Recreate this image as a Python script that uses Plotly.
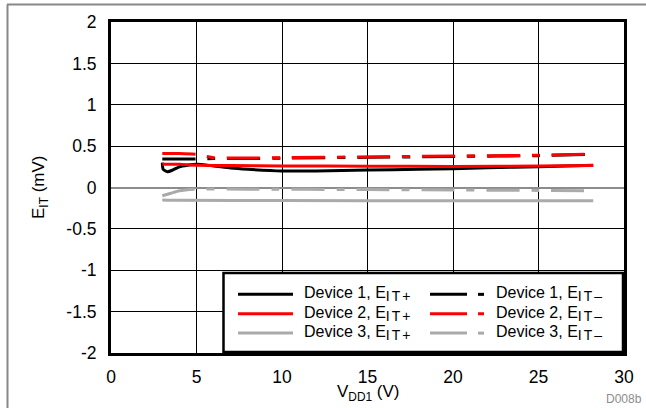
import plotly.graph_objects as go

# Supply voltage sweep (V) and input-threshold error (mV) per device
vdd_d1_pos = [3.0, 3.05, 3.3, 3.6, 4.0, 5.0, 6.0, 7.0, 8.0, 10.0, 12.0, 15.0, 18.0, 20.0, 22.0, 25.0, 28.2]
eit_d1_pos = [0.30, 0.22, 0.19, 0.21, 0.25, 0.28, 0.26, 0.235, 0.22, 0.20, 0.20, 0.21, 0.22, 0.228, 0.238, 0.252, 0.27]

vdd_d1_neg = [3.0, 4.0, 5.0, 6.0, 8.0, 10.0, 15.0, 20.0, 25.0, 28.2]
eit_d1_neg = [0.345, 0.345, 0.345, 0.35, 0.35, 0.355, 0.365, 0.375, 0.385, 0.40]

vdd_d2_pos = [3.0, 4.0, 5.0, 7.0, 10.0, 15.0, 20.0, 25.0, 28.2]
eit_d2_pos = [0.28, 0.28, 0.27, 0.265, 0.26, 0.258, 0.255, 0.26, 0.265]

vdd_d2_neg = [3.0, 4.0, 5.0, 5.5, 6.0, 8.0, 10.0, 15.0, 20.0, 25.0, 28.2]
eit_d2_neg = [0.41, 0.41, 0.40, 0.38, 0.36, 0.355, 0.36, 0.37, 0.38, 0.39, 0.405]

vdd_d3_pos = [3.0, 4.0, 10.0, 20.0, 28.2]
eit_d3_pos = [-0.15, -0.155, -0.157, -0.16, -0.16]

vdd_d3_neg = [3.0, 3.5, 4.0, 5.0, 8.0, 15.0, 20.0, 25.0, 28.2]
eit_d3_neg = [-0.10, -0.07, -0.04, -0.02, -0.02, -0.025, -0.03, -0.035, -0.04]

x_ticks = [0, 5, 10, 15, 20, 25, 30]
y_ticks = [-2, -1.5, -1, -0.5, 0, 0.5, 1, 1.5, 2]
y_tick_text = ["-2", "-1.5", "-1", "-0.5", "0", "0.5", "1", "1.5", "2"]

BLACK = "#000000"
RED = "#ff0000"
GRAY = "#aaaaaa"
DASH = "33px,12px,8px,12px"
FONT = "Liberation Sans, Arial, sans-serif"

SUB_STYLE = "font-size:14px;letter-spacing:2px"
SUB_POS = "<sub><span style='" + SUB_STYLE + "'>IT+</span></sub>"
SUB_NEG = "<sub><span style='" + SUB_STYLE + "'>IT–</span></sub>"

series = [
    ("Device 1, E" + SUB_POS, vdd_d1_pos, eit_d1_pos, BLACK, "solid"),
    ("Device 3, E" + SUB_POS, vdd_d3_pos, eit_d3_pos, GRAY, "solid"),
    ("Device 3, E" + SUB_NEG, vdd_d3_neg, eit_d3_neg, GRAY, DASH),
    ("Device 1, E" + SUB_NEG, vdd_d1_neg, eit_d1_neg, BLACK, DASH),
    ("Device 2, E" + SUB_POS, vdd_d2_pos, eit_d2_pos, RED, "solid"),
    ("Device 2, E" + SUB_NEG, vdd_d2_neg, eit_d2_neg, RED, DASH),
]

fig = go.Figure()
for name, xs, ys, color, dash in series:
    fig.add_trace(go.Scatter(
        x=xs, y=ys, mode="lines", name=name, showlegend=False,
        line=dict(color=color, width=3, dash=dash, shape="spline", smoothing=0.6),
    ))

W, H = 646, 408
ML, MR, MT, MB = 111, 22, 20, 55
PW, PH = W - ML - MR, H - MT - MB


def px(xpix):
    return (xpix - ML) / PW


def py(ypix):
    return (H - MB - ypix) / PH


shapes = []
annotations = []

# Outer page frame (top and left rules)
shapes.append(dict(type="line", xref="paper", yref="paper", x0=px(7), x1=px(W + 5),
                   y0=py(2.5), y1=py(2.5), line=dict(color="#888888", width=2)))
shapes.append(dict(type="line", xref="paper", yref="paper", x0=px(7.5), x1=px(7.5),
                   y0=py(2.5), y1=py(H + 5), line=dict(color="#888888", width=2)))

# Legend box
shapes.append(dict(type="rect", xref="paper", yref="paper", x0=px(223.5), x1=px(623),
                   y0=py(352), y1=py(272.5), line=dict(color=BLACK, width=2.5),
                   fillcolor="white", layer="above"))

legend_rows = [
    (("Device 1, E" + SUB_POS, BLACK), ("Device 1, E" + SUB_NEG, BLACK), 294),
    (("Device 2, E" + SUB_POS, RED), ("Device 2, E" + SUB_NEG, RED), 313.5),
    (("Device 3, E" + SUB_POS, GRAY), ("Device 3, E" + SUB_NEG, GRAY), 333),
]
for (lab1, c1), (lab2, c2), ypix in legend_rows:
    shapes.append(dict(type="line", xref="paper", yref="paper", x0=px(238), x1=px(293),
                       y0=py(ypix), y1=py(ypix), line=dict(color=c1, width=3), layer="above"))
    shapes.append(dict(type="line", xref="paper", yref="paper", x0=px(430), x1=px(467),
                       y0=py(ypix), y1=py(ypix), line=dict(color=c2, width=3), layer="above"))
    shapes.append(dict(type="line", xref="paper", yref="paper", x0=px(478), x1=px(484),
                       y0=py(ypix), y1=py(ypix), line=dict(color=c2, width=3), layer="above"))
    annotations.append(dict(text=lab1, xref="paper", yref="paper", x=px(302), y=py(ypix),
                            xanchor="left", yanchor="middle", showarrow=False,
                            font=dict(family=FONT, size=16, color=BLACK)))
    annotations.append(dict(text=lab2, xref="paper", yref="paper", x=px(494), y=py(ypix),
                            xanchor="left", yanchor="middle", showarrow=False,
                            font=dict(family=FONT, size=16, color=BLACK)))

# Axis titles
annotations.append(dict(text="E<sub>IT</sub> (mV)", xref="paper", yref="paper",
                        x=px(40), y=py(187), textangle=-90, showarrow=False,
                        xanchor="center", yanchor="middle",
                        font=dict(family=FONT, size=17, color=BLACK)))
annotations.append(dict(text="V<sub>DD1</sub> (V)", xref="paper", yref="paper",
                        x=px(368), y=py(393), showarrow=False,
                        xanchor="center", yanchor="middle",
                        font=dict(family=FONT, size=17, color=BLACK)))
annotations.append(dict(text="D008b", xref="paper", yref="paper",
                        x=px(644), y=py(399), showarrow=False,
                        xanchor="right", yanchor="middle",
                        font=dict(family=FONT, size=12, color="#8c8c8c")))

fig.update_layout(
    width=W, height=H,
    margin=dict(l=ML, r=MR, t=MT, b=MB, pad=0),
    paper_bgcolor="white", plot_bgcolor="white",
    font=dict(family=FONT, size=17, color=BLACK),
    showlegend=False,
    shapes=shapes,
    annotations=annotations,
    xaxis=dict(range=[0, 30], tickvals=x_ticks, ticktext=[str(v) for v in x_ticks],
               showgrid=True, gridcolor=BLACK, gridwidth=1, zeroline=False,
               showline=True, linecolor=BLACK, linewidth=3, mirror=True,
               ticks="", ticklabelstandoff=6, tickfont=dict(size=17.5)),
    yaxis=dict(range=[-2, 2], tickvals=y_ticks, ticktext=y_tick_text,
               showgrid=True, gridcolor=BLACK, gridwidth=1,
               zeroline=True, zerolinecolor="#8c8c8c", zerolinewidth=2,
               showline=True, linecolor=BLACK, linewidth=3, mirror=True,
               ticks="", ticklabelstandoff=8, tickfont=dict(size=17.5)),
)

fig.write_html("out.html")
